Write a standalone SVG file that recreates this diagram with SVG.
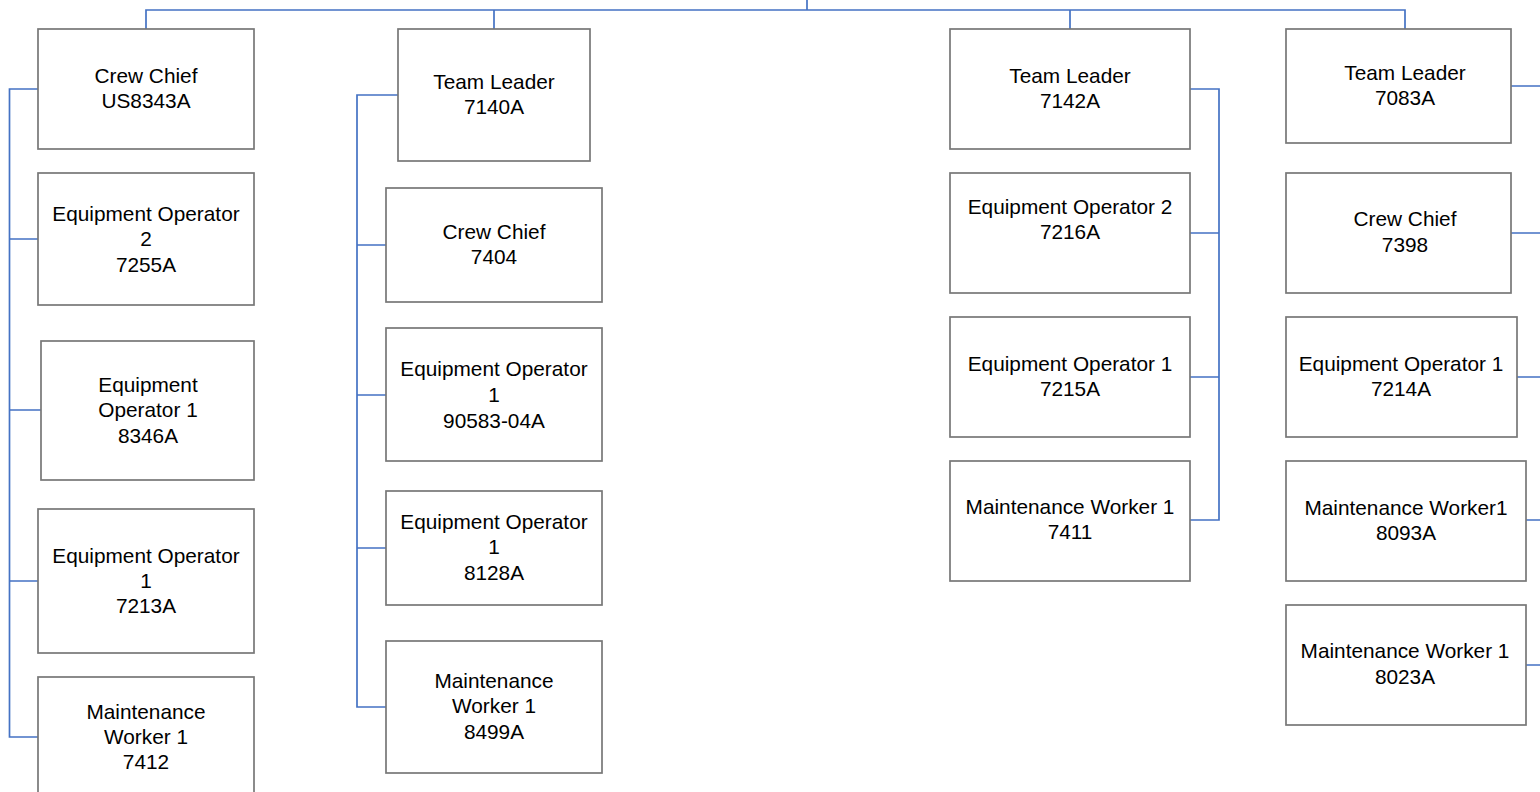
<svg xmlns="http://www.w3.org/2000/svg" width="1540" height="792" viewBox="0 0 1540 792">
<style>
.box{fill:#fff;stroke:#777;stroke-width:1.7}
.t{font-family:"Liberation Sans",Arial,sans-serif;font-size:20.8px;fill:#000;text-anchor:middle}
.c{fill:none;stroke:#4472c4;stroke-width:1.7}
</style>
<rect width="1540" height="792" fill="#fff"/>
<g id="connectors">
<path class="c" d="M807 0V10M146 29V10H1405V29M494 10V29M1070 10V29"/>
<path class="c" d="M38 89H9.5V737H38M9.5 239H38M9.5 410H41M9.5 581H38"/>
<path class="c" d="M398 95H357V707H386M357 245H386M357 395H386M357 548H386"/>
<path class="c" d="M1190 89H1219V520H1190M1219 233H1190M1219 377H1190"/>
<path class="c" d="M1511 86H1545M1511 233H1545M1517 377H1545M1526 520H1545M1526 665H1545"/>
</g>
<g id="n1"><rect class="box" x="38" y="29" width="216" height="120"/><text class="t" x="146"><tspan x="146" y="83">Crew Chief</tspan><tspan x="146" y="108">US8343A</tspan></text></g>
<g id="n2"><rect class="box" x="38" y="173" width="216" height="132"/><text class="t"><tspan x="146" y="221">Equipment Operator</tspan><tspan x="146" y="246">2</tspan><tspan x="146" y="272">7255A</tspan></text></g>
<g id="n3"><rect class="box" x="41" y="341" width="213" height="139"/><text class="t"><tspan x="148" y="392">Equipment</tspan><tspan x="148" y="417">Operator 1</tspan><tspan x="148" y="443">8346A</tspan></text></g>
<g id="n4"><rect class="box" x="38" y="509" width="216" height="144"/><text class="t"><tspan x="146" y="563">Equipment Operator</tspan><tspan x="146" y="588">1</tspan><tspan x="146" y="613">7213A</tspan></text></g>
<g id="n5"><rect class="box" x="38" y="677" width="216" height="120"/><text class="t"><tspan x="146" y="719">Maintenance</tspan><tspan x="146" y="744">Worker 1</tspan><tspan x="146" y="769">7412</tspan></text></g>
<g id="n6"><rect class="box" x="398" y="29" width="192" height="132"/><text class="t"><tspan x="494" y="89">Team Leader</tspan><tspan x="494" y="114">7140A</tspan></text></g>
<g id="n7"><rect class="box" x="386" y="188" width="216" height="114"/><text class="t"><tspan x="494" y="239">Crew Chief</tspan><tspan x="494" y="264">7404</tspan></text></g>
<g id="n8"><rect class="box" x="386" y="328" width="216" height="133"/><text class="t"><tspan x="494" y="376">Equipment Operator</tspan><tspan x="494" y="402">1</tspan><tspan x="494" y="428">90583-04A</tspan></text></g>
<g id="n9"><rect class="box" x="386" y="491" width="216" height="114"/><text class="t"><tspan x="494" y="529">Equipment Operator</tspan><tspan x="494" y="554">1</tspan><tspan x="494" y="580">8128A</tspan></text></g>
<g id="n10"><rect class="box" x="386" y="641" width="216" height="132"/><text class="t"><tspan x="494" y="688">Maintenance</tspan><tspan x="494" y="713">Worker 1</tspan><tspan x="494" y="739">8499A</tspan></text></g>
<g id="n11"><rect class="box" x="950" y="29" width="240" height="120"/><text class="t"><tspan x="1070" y="83">Team Leader</tspan><tspan x="1070" y="108">7142A</tspan></text></g>
<g id="n12"><rect class="box" x="950" y="173" width="240" height="120"/><text class="t"><tspan x="1070" y="214">Equipment Operator 2</tspan><tspan x="1070" y="239">7216A</tspan></text></g>
<g id="n13"><rect class="box" x="950" y="317" width="240" height="120"/><text class="t"><tspan x="1070" y="371">Equipment Operator 1</tspan><tspan x="1070" y="396">7215A</tspan></text></g>
<g id="n14"><rect class="box" x="950" y="461" width="240" height="120"/><text class="t"><tspan x="1070" y="514">Maintenance Worker 1</tspan><tspan x="1070" y="539">7411</tspan></text></g>
<g id="n15"><rect class="box" x="1286" y="29" width="225" height="114"/><text class="t"><tspan x="1405" y="80">Team Leader</tspan><tspan x="1405" y="105">7083A</tspan></text></g>
<g id="n16"><rect class="box" x="1286" y="173" width="225" height="120"/><text class="t"><tspan x="1405" y="226">Crew Chief</tspan><tspan x="1405" y="252">7398</tspan></text></g>
<g id="n17"><rect class="box" x="1286" y="317" width="231" height="120"/><text class="t"><tspan x="1401" y="371">Equipment Operator 1</tspan><tspan x="1401" y="396">7214A</tspan></text></g>
<g id="n18"><rect class="box" x="1286" y="461" width="240" height="120"/><text class="t"><tspan x="1406" y="515">Maintenance Worker1</tspan><tspan x="1406" y="540">8093A</tspan></text></g>
<g id="n19"><rect class="box" x="1286" y="605" width="240" height="120"/><text class="t"><tspan x="1405" y="658">Maintenance Worker 1</tspan><tspan x="1405" y="684">8023A</tspan></text></g>
</svg>
